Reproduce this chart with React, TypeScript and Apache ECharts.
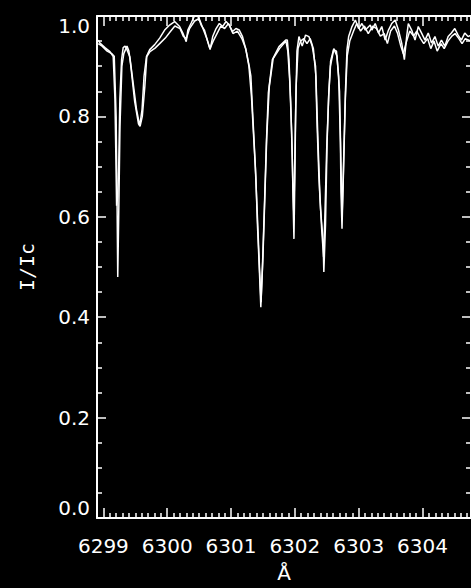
import React, { useEffect, useRef } from "react";
import * as echarts from "echarts";

// Wavelength axis (Å) tick labels
const xMajorTicks = [6299, 6300, 6301, 6302, 6303, 6304];
const yMajorTicks = [0, 0.2, 0.4, 0.6, 0.8, 1.0];

// Spectrum 1: [wavelength (Å), I/Ic]
const spectrum1: [number, number][] = [
  [6298.92, 0.952], [6298.947, 0.946], [6299.025, 0.937], [6299.103, 0.929],
  [6299.154, 0.919], [6299.181, 0.834], [6299.196, 0.715], [6299.207, 0.622],
  [6299.225, 0.64], [6299.24, 0.7], [6299.258, 0.834], [6299.285, 0.913],
  [6299.31, 0.937], [6299.34, 0.94], [6299.363, 0.935], [6299.414, 0.919],
  [6299.466, 0.867], [6299.519, 0.814], [6299.57, 0.781], [6299.606, 0.814],
  [6299.637, 0.88], [6299.675, 0.919], [6299.726, 0.933], [6299.804, 0.943],
  [6299.882, 0.956], [6299.96, 0.972], [6300.038, 0.982], [6300.116, 0.989],
  [6300.194, 0.979], [6300.245, 0.966], [6300.298, 0.949], [6300.323, 0.972],
  [6300.376, 0.986], [6300.427, 1.0], [6300.479, 1.0], [6300.532, 0.982],
  [6300.583, 0.972], [6300.635, 0.949], [6300.672, 0.933], [6300.713, 0.959],
  [6300.766, 0.975], [6300.817, 0.985], [6300.869, 0.979], [6300.922, 0.989],
  [6300.973, 0.982], [6301.024, 0.969], [6301.077, 0.975], [6301.129, 0.972],
  [6301.18, 0.959], [6301.233, 0.933], [6301.285, 0.9], [6301.311, 0.88],
  [6301.336, 0.814], [6301.389, 0.68], [6301.414, 0.583], [6301.441, 0.504],
  [6301.467, 0.42], [6301.492, 0.5], [6301.518, 0.6], [6301.554, 0.748],
  [6301.585, 0.847], [6301.648, 0.913], [6301.752, 0.939], [6301.857, 0.952],
  [6301.882, 0.952], [6301.908, 0.913], [6301.935, 0.828], [6301.96, 0.715],
  [6301.975, 0.616], [6301.986, 0.556], [6302.0, 0.68], [6302.013, 0.814],
  [6302.033, 0.93], [6302.064, 0.959], [6302.115, 0.94], [6302.168, 0.962],
  [6302.22, 0.959], [6302.272, 0.94], [6302.324, 0.9], [6302.349, 0.781],
  [6302.376, 0.682], [6302.402, 0.616], [6302.443, 0.55], [6302.454, 0.49],
  [6302.48, 0.583], [6302.505, 0.748], [6302.532, 0.847], [6302.558, 0.9],
  [6302.609, 0.933], [6302.652, 0.93], [6302.687, 0.88], [6302.714, 0.748],
  [6302.723, 0.649], [6302.739, 0.576], [6302.765, 0.715], [6302.792, 0.847],
  [6302.817, 0.933], [6302.843, 0.959], [6302.895, 0.979], [6302.948, 0.992],
  [6302.999, 0.975], [6303.051, 0.985], [6303.104, 0.972], [6303.182, 0.982],
  [6303.207, 0.972], [6303.259, 0.985], [6303.311, 0.966], [6303.362, 0.979],
  [6303.415, 0.952], [6303.467, 0.972], [6303.518, 0.985], [6303.571, 0.992],
  [6303.623, 0.972], [6303.674, 0.946], [6303.716, 0.913], [6303.752, 0.959],
  [6303.778, 0.985], [6303.83, 0.972], [6303.883, 0.952], [6303.934, 0.979],
  [6303.986, 0.966], [6304.039, 0.952], [6304.09, 0.966], [6304.142, 0.946],
  [6304.195, 0.959], [6304.246, 0.94], [6304.297, 0.952], [6304.35, 0.94],
  [6304.402, 0.959], [6304.453, 0.966], [6304.506, 0.975], [6304.558, 0.962],
  [6304.609, 0.952], [6304.662, 0.966], [6304.714, 0.959], [6304.76, 0.962],
];

// Spectrum 2: [wavelength (Å), I/Ic]
const spectrum2: [number, number][] = [
  [6298.92, 0.945], [6298.98, 0.94], [6299.06, 0.93], [6299.13, 0.925],
  [6299.17, 0.92], [6299.2, 0.8], [6299.215, 0.62], [6299.225, 0.48],
  [6299.24, 0.6], [6299.26, 0.78], [6299.29, 0.9], [6299.32, 0.925],
  [6299.37, 0.94], [6299.4, 0.93], [6299.43, 0.9], [6299.49, 0.83],
  [6299.55, 0.785], [6299.575, 0.78], [6299.61, 0.8], [6299.65, 0.86],
  [6299.68, 0.919], [6299.73, 0.929], [6299.81, 0.936], [6299.89, 0.946],
  [6299.97, 0.956], [6300.05, 0.969], [6300.12, 0.98], [6300.2, 0.975],
  [6300.25, 0.96], [6300.3, 0.955], [6300.35, 0.975], [6300.43, 0.99],
  [6300.5, 0.995], [6300.56, 0.975], [6300.62, 0.955], [6300.67, 0.935],
  [6300.72, 0.95], [6300.78, 0.965], [6300.84, 0.98], [6300.9, 0.975],
  [6300.96, 0.985], [6301.03, 0.965], [6301.1, 0.97], [6301.17, 0.955],
  [6301.23, 0.935], [6301.28, 0.9], [6301.32, 0.84], [6301.38, 0.7],
  [6301.42, 0.58], [6301.445, 0.5], [6301.47, 0.43], [6301.5, 0.52],
  [6301.53, 0.64], [6301.56, 0.76], [6301.6, 0.86], [6301.66, 0.915],
  [6301.76, 0.935], [6301.86, 0.95], [6301.89, 0.93], [6301.92, 0.87],
  [6301.95, 0.77], [6301.97, 0.66], [6301.985, 0.6], [6302.0, 0.72],
  [6302.02, 0.86], [6302.05, 0.935], [6302.09, 0.95], [6302.14, 0.955],
  [6302.19, 0.945], [6302.24, 0.955], [6302.29, 0.935], [6302.33, 0.88],
  [6302.36, 0.76], [6302.39, 0.65], [6302.42, 0.576], [6302.45, 0.52],
  [6302.47, 0.6], [6302.5, 0.74], [6302.53, 0.84], [6302.56, 0.91],
  [6302.61, 0.935], [6302.66, 0.92], [6302.7, 0.85], [6302.72, 0.72],
  [6302.74, 0.6], [6302.76, 0.68], [6302.79, 0.83], [6302.82, 0.92],
  [6302.86, 0.95], [6302.92, 0.97], [6302.97, 0.985], [6303.03, 0.97],
  [6303.09, 0.98], [6303.15, 0.965], [6303.22, 0.98], [6303.28, 0.975],
  [6303.34, 0.96], [6303.4, 0.965], [6303.45, 0.945], [6303.5, 0.97],
  [6303.56, 0.98], [6303.61, 0.965], [6303.66, 0.94], [6303.7, 0.925],
  [6303.74, 0.945], [6303.8, 0.97], [6303.86, 0.96], [6303.91, 0.97],
  [6303.97, 0.955], [6304.02, 0.945], [6304.08, 0.955], [6304.13, 0.935],
  [6304.18, 0.95], [6304.23, 0.93], [6304.29, 0.945], [6304.34, 0.935],
  [6304.4, 0.95], [6304.46, 0.96], [6304.51, 0.965], [6304.57, 0.955],
  [6304.62, 0.945], [6304.67, 0.955], [6304.76, 0.95],
];

const X_MIN = 6298.9;
const X_MAX = 6304.76;

export default function App() {
  const ref = useRef<HTMLDivElement>(null);

  useEffect(() => {
    if (!ref.current) return;
    const chart = echarts.init(ref.current, null, { renderer: "svg" });

    // minor ticks every 0.1 Å
    const xMinorTicks: number[] = [];
    for (let i = Math.ceil(X_MIN * 10); i <= Math.floor(X_MAX * 10); i++) {
      if (i % 10 !== 0) xMinorTicks.push(i / 10);
    }

    const white = "#ffffff";
    const font = "DejaVu Sans";

    const xBase = {
      type: "value" as const,
      min: X_MIN,
      max: X_MAX,
      gridIndex: 0,
      splitLine: { show: false },
    };
    const yBase = {
      type: "value" as const,
      min: yMajorTicks[0],
      max: yMajorTicks[yMajorTicks.length - 1],
      interval: 0.2,
      gridIndex: 0,
      splitLine: { show: false },
      minorSplitLine: { show: false },
    };

    chart.setOption({
      animation: false,
      backgroundColor: "#000000",
      grid: { left: 97, top: 16, width: 376, height: 505, containLabel: false },
      xAxis: [
        {
          ...xBase,
          position: "bottom",
          axisLine: { show: true, onZero: false, lineStyle: { color: white, width: 2 } },
          axisTick: {
            show: true,
            inside: true,
            length: 10,
            customValues: xMajorTicks,
            lineStyle: { color: white, width: 1.5 },
          },
          axisLabel: {
            show: true,
            customValues: xMajorTicks,
            color: white,
            fontSize: 20,
            fontFamily: font,
            margin: 18,
            formatter: (v: number) => String(Math.round(v)),
          },
          name: "Å",
          nameLocation: "middle",
          nameGap: 45,
          nameTextStyle: { color: white, fontSize: 20, fontFamily: font },
        },
        {
          ...xBase,
          position: "bottom",
          axisLine: { show: false, onZero: false },
          axisTick: {
            show: true,
            inside: true,
            length: 5,
            customValues: xMinorTicks,
            lineStyle: { color: white, width: 1.5 },
          },
          axisLabel: { show: false },
        },
        {
          ...xBase,
          position: "top",
          axisLine: { show: true, onZero: false, lineStyle: { color: white, width: 2 } },
          axisTick: {
            show: true,
            inside: true,
            length: 10,
            customValues: xMajorTicks,
            lineStyle: { color: white, width: 1.5 },
          },
          axisLabel: { show: false },
        },
        {
          ...xBase,
          position: "top",
          axisLine: { show: false, onZero: false },
          axisTick: {
            show: true,
            inside: true,
            length: 5,
            customValues: xMinorTicks,
            lineStyle: { color: white, width: 1.5 },
          },
          axisLabel: { show: false },
        },
      ],
      yAxis: [
        {
          ...yBase,
          position: "left",
          axisLine: { show: true, onZero: false, lineStyle: { color: white, width: 2 } },
          axisTick: { show: true, inside: true, length: 9, lineStyle: { color: white, width: 1.5 } },
          minorTick: { show: true, splitNumber: 4, length: 5, lineStyle: { color: white, width: 1.5 } },
          axisLabel: {
            show: true,
            color: white,
            fontSize: 20,
            fontFamily: font,
            margin: 7,
            verticalAlignMinLabel: "bottom",
            verticalAlignMaxLabel: "top",
            formatter: (v: number) => v.toFixed(1),
          },
          name: "I/Ic",
          nameLocation: "middle",
          nameGap: 60,
          nameTextStyle: { color: white, fontSize: 20, fontFamily: "DejaVu Sans Mono" },
        },
        {
          ...yBase,
          position: "right",
          axisLine: { show: true, onZero: false, lineStyle: { color: white, width: 2 } },
          axisTick: { show: true, inside: true, length: 9, lineStyle: { color: white, width: 1.5 } },
          minorTick: { show: true, splitNumber: 4, length: 5, lineStyle: { color: white, width: 1.5 } },
          axisLabel: { show: false },
        },
      ],
      series: [
        {
          type: "line",
          xAxisIndex: 0,
          yAxisIndex: 0,
          data: spectrum1,
          showSymbol: false,
          symbol: "none",
          lineStyle: { color: white, width: 1.5 },
        },
        {
          type: "line",
          xAxisIndex: 0,
          yAxisIndex: 0,
          data: spectrum2,
          showSymbol: false,
          symbol: "none",
          lineStyle: { color: white, width: 1.5 },
        },
      ],
    });

    return () => chart.dispose();
  }, []);

  return (
    <div
      ref={ref}
      style={{ position: "fixed", left: 0, top: 0, width: 471, height: 588, background: "#000" }}
    />
  );
}
